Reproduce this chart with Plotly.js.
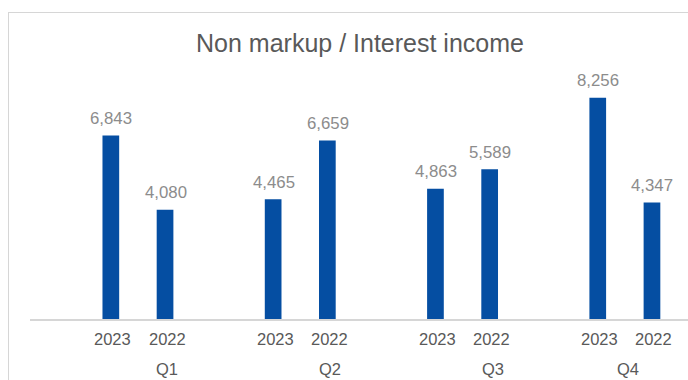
<!DOCTYPE html>
<html>
<head>
<meta charset="utf-8">
<script src="https://cdn.plot.ly/plotly-3.0.1.min.js"></script>
<style>
  html, body { margin: 0; padding: 0; width: 688px; height: 380px; overflow: hidden; background: #ffffff; }
  #frame { position: absolute; left: 8px; top: 12px; width: 760px; height: 420px; border: 1.5px solid #d6d6d6; box-sizing: border-box; }
  #chart { position: absolute; left: 0; top: 0; width: 688px; height: 380px; }
</style>
</head>
<body>
<div id="frame"></div>
<div id="chart"></div>
<script>
// ---- data ----
const quarters = ['Q1', 'Q2', 'Q3', 'Q4'];
const years = ['2023', '2022'];
const values2023 = [6843, 4465, 4863, 8256];
const values2022 = [4080, 6659, 5589, 4347];
const titleText = 'Non markup / Interest income';

// ---- styles ----
const barColor = '#054EA2';
const valueColor = '#8c8c8c';
const labelColor = '#595959';
const fontFamily = '"Liberation Sans", Arial, Helvetica, sans-serif';
const barOffsetPx = 27.1;
const quarterLabelShiftPx = [29, 29.5, 30, 3];

const series = [
  { name: years[0], y: values2023, sign: -1 },
  { name: years[1], y: values2022, sign: 1 }
];

const traces = series.map(s => ({
  type: 'bar',
  name: s.name,
  x: quarters,
  y: s.y,
  marker: { color: barColor },
  hoverinfo: 'skip',
  showlegend: false
}));

const annotations = [];
series.forEach(s => {
  quarters.forEach((q, i) => {
    annotations.push({
      x: q, y: s.y[i], xref: 'x', yref: 'y',
      xshift: s.sign * barOffsetPx + 0.5, yshift: 17,
      text: s.y[i].toLocaleString('en-US'),
      showarrow: false, xanchor: 'center', yanchor: 'middle',
      font: { family: fontFamily, size: 16.8, color: valueColor }
    });
    annotations.push({
      x: q, y: 0, xref: 'x', yref: 'y',
      xshift: s.sign * barOffsetPx + 2, yshift: -19.5,
      text: s.name,
      showarrow: false, xanchor: 'center', yanchor: 'middle',
      font: { family: fontFamily, size: 16.5, color: labelColor }
    });
  });
});
quarters.forEach((q, i) => {
  annotations.push({
    x: q, y: 0, xref: 'x', yref: 'y',
    xshift: quarterLabelShiftPx[i], yshift: -50,
    text: q,
    showarrow: false, xanchor: 'center', yanchor: 'middle',
    font: { family: fontFamily, size: 16.5, color: labelColor }
  });
});

const layout = {
  width: 688,
  height: 380,
  margin: { l: 30, r: 0, t: 51, b: 61 },
  paper_bgcolor: 'rgba(0,0,0,0)',
  plot_bgcolor: 'rgba(0,0,0,0)',
  barmode: 'group',
  bargap: 0.332,
  bargroupgap: 0.692,
  title: {
    text: titleText,
    x: (360 - 30) / 658, xref: 'paper', xanchor: 'center',
    y: 1 - 43 / 380, yref: 'container', yanchor: 'middle',
    font: { family: fontFamily, size: 25, color: labelColor }
  },
  xaxis: {
    type: 'category',
    range: [-0.665, 3.389],
    showticklabels: false,
    ticks: '',
    showgrid: false,
    showline: true,
    linecolor: '#d6d6d6',
    linewidth: 2,
    fixedrange: true
  },
  yaxis: {
    range: [0, 10000],
    visible: false,
    showgrid: false,
    zeroline: false,
    fixedrange: true
  },
  annotations: annotations,
  showlegend: false
};

Plotly.newPlot('chart', traces, layout, { displayModeBar: false, staticPlot: true });
</script>
</body>
</html>
